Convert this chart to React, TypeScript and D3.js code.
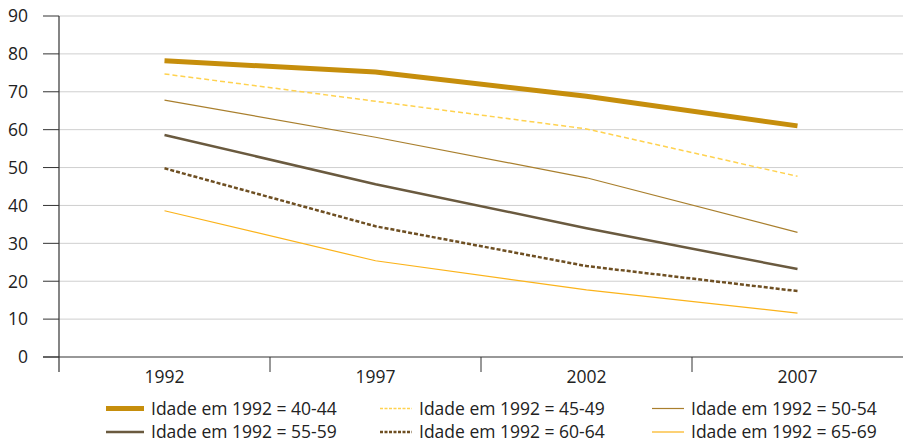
import React from "react";
import * as d3 from "d3";

const years = ["1992", "1997", "2002", "2007"];
const yTicks = [0, 10, 20, 30, 40, 50, 60, 70, 80, 90];
const s4044 = [78.2, 75.2, 68.8, 61.0];
const s4549 = [74.7, 67.5, 60.2, 47.7];
const s5054 = [67.8, 58.0, 47.3, 32.9];
const s5559 = [58.6, 45.6, 34.0, 23.2];
const s6064 = [49.8, 34.5, 24.0, 17.4];
const s6569 = [38.6, 25.4, 17.7, 11.6];
const labels = [
  "Idade em 1992 = 40-44",
  "Idade em 1992 = 45-49",
  "Idade em 1992 = 50-54",
  "Idade em 1992 = 55-59",
  "Idade em 1992 = 60-64",
  "Idade em 1992 = 65-69",
];

const series = [
  { name: labels[0], values: s4044, color: "#C68E0C", width: 5, dash: "" },
  { name: labels[1], values: s4549, color: "#FFD24F", width: 1.5, dash: "5,3" },
  { name: labels[2], values: s5054, color: "#A97F2D", width: 1.2, dash: "" },
  { name: labels[3], values: s5559, color: "#6A5A3F", width: 2.5, dash: "" },
  { name: labels[4], values: s6064, color: "#6E4F22", width: 2.5, dash: "4,2" },
  { name: labels[5], values: s6569, color: "#FBB31A", width: 1.2, dash: "" },
];

export default function App() {
  const W = 903, H = 444;
  const left = 59, right = 903, top = 16, bottom = 357;
  const x = d3.scaleBand<string>().domain(years).range([left, right]);
  const y = d3.scaleLinear().domain([0, 90]).range([bottom, top]);
  const font = "'Open Sans', sans-serif";
  const line = d3
    .line<number>()
    .x((_, i) => (x(years[i]) as number) + x.bandwidth() / 2)
    .y((d) => y(d));
  const legendCols = [106, 380, 652];
  const legendRows = [408.5, 432];
  return (
    <svg width={W} height={H} style={{ position: "absolute", left: 0, top: 0 }}>
      <rect width={W} height={H} fill="#fff" />
      {yTicks.map((t) => (
        <g key={t}>
          {t > 0 && (
            <line x1={left} x2={right} y1={y(t)} y2={y(t)} stroke="#CFCFCF" strokeWidth={1} />
          )}
          <line x1={43} x2={left} y1={y(t)} y2={y(t)} stroke="#333" strokeWidth={1} />
          <text x={28} y={y(t)} dy="0.36em" textAnchor="end" fontFamily={font} fontSize={17.5} fill="#222">
            {t}
          </text>
        </g>
      ))}
      <line x1={left} x2={left} y1={top} y2={bottom + 15} stroke="#333" strokeWidth={1.2} />
      <line x1={43} x2={right} y1={bottom} y2={bottom} stroke="#333" strokeWidth={1.2} />
      {years.map((yr, i) => (
        <g key={yr}>
          {i > 0 && (
            <line
              x1={x(yr) as number}
              x2={x(yr) as number}
              y1={bottom}
              y2={bottom + 15}
              stroke="#333"
              strokeWidth={1}
            />
          )}
          <text
            x={(x(yr) as number) + x.bandwidth() / 2}
            y={bottom + 26}
            textAnchor="middle"
            fontFamily={font}
            fontSize={17.5}
            fill="#222"
          >
            {yr}
          </text>
        </g>
      ))}
      {series.map((s) => (
        <path
          key={s.name}
          d={line(s.values) || ""}
          fill="none"
          stroke={s.color}
          strokeWidth={s.width}
          strokeDasharray={s.dash}
        />
      ))}
      {series.map((s, i) => {
        const cx = legendCols[i % 3];
        const cy = legendRows[Math.floor(i / 3)];
        const sw = i % 3 === 0 ? 38 : 32;
        return (
          <g key={"l" + i}>
            <line
              x1={cx}
              x2={cx + sw}
              y1={cy}
              y2={cy}
              stroke={s.color}
              strokeWidth={s.width}
              strokeDasharray={s.dash ? "3,1.5" : ""}
            />
            <text x={cx + sw + 7} y={cy} dy="0.35em" fontFamily={font} fontSize={17.5} fill="#222">
              {s.name}
            </text>
          </g>
        );
      })}
    </svg>
  );
}
